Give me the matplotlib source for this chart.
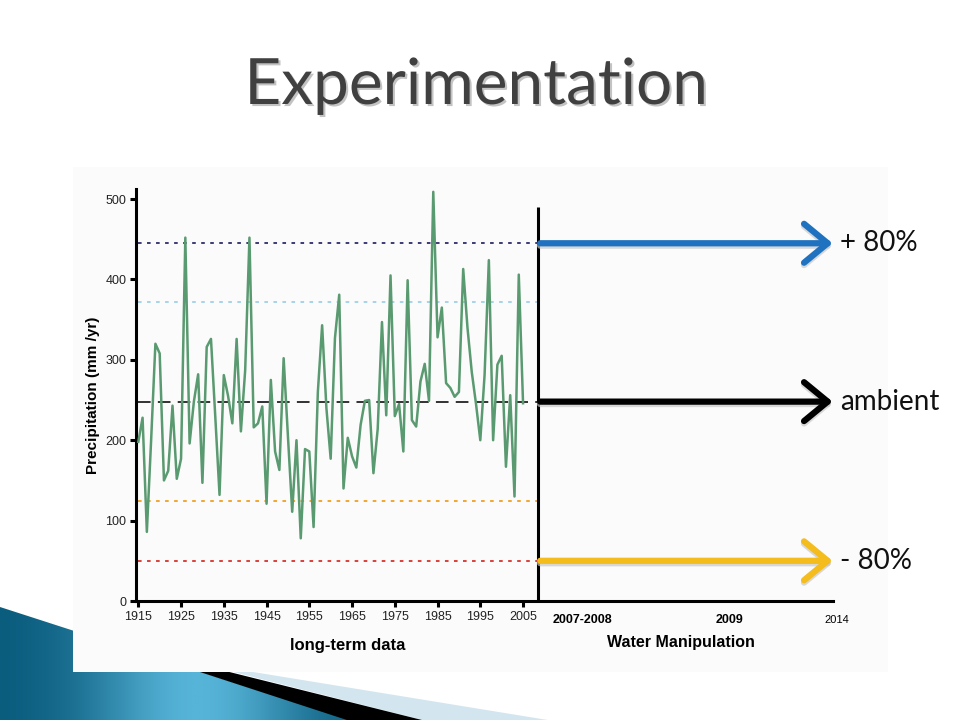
import numpy as np
import matplotlib.pyplot as plt
from matplotlib.patches import Polygon, Rectangle
from matplotlib.colors import LinearSegmentedColormap
from matplotlib.transforms import blended_transform_factory
import matplotlib.patheffects as pe

# annual precipitation (mm / yr)
years = list(range(1915, 2006))
precip = [198, 228, 86, 200, 320, 308, 150, 162, 243, 152,
          177, 452, 196, 248, 282, 147, 316, 326, 230, 132,
          281, 255, 221, 326, 211, 287, 452, 216, 221, 242,
          121, 275, 186, 163, 302, 205, 111, 200, 78, 189,
          186, 92, 260, 343, 240, 177, 327, 381, 140, 203,
          180, 166, 219, 249, 250, 159, 214, 347, 231, 405,
          230, 245, 186, 399, 225, 217, 273, 295, 249, 509,
          328, 365, 271, 265, 254, 260, 413, 340, 285, 245,
          200, 281, 424, 200, 294, 305, 167, 256, 130, 406, 246]

# reference levels (ambient mean and +/- 50 / 80 %)
levels = [445, 372, 248, 124, 50]
level_colors = ['#2b2c6b', '#9fd0e8', '#222222', '#f0a020', '#d9312b']
level_styles = [(0, (2, 3)), (0, (2, 3)), (0, (7, 4)), (0, (2, 3)), (0, (2, 3))]

xticks = list(range(1915, 2006, 10))
yticks = [0, 100, 200, 300, 400, 500]

# treatments shown as arrows: level, colour, label
arrow_levels = [445, 248, 50]
arrow_colors = ['#1f72c0', '#000000', '#f4bc1c']
arrow_labels = ['+ 80%', 'ambient', '- 80%']

manip_labels = ['2007-2008', '2009', '2014']
manip_pos = [2018.9, 2053.4, 2078.4]

W, H = 960, 720
fig = plt.figure(figsize=(9.6, 7.2), dpi=100)
fig.patch.set_facecolor('white')

# background layer in pixel coordinates
bg = fig.add_axes([0, 0, 1, 1], zorder=-1)
bg.set_xlim(0, W)
bg.set_ylim(H, 0)
bg.axis('off')

# slide decoration at bottom left
light = Polygon([(198, 663), (560, 722), (430, 722)], closed=True,
                facecolor='#d3e6ef', edgecolor='none')
bg.add_patch(light)
shadow = Polygon([(105, 641), (430, 722), (353, 722)], closed=True,
                 facecolor='black', edgecolor='none')
bg.add_patch(shadow)
blue = Polygon([(0, 607), (356, 722), (0, 722)], closed=True,
               facecolor='none', edgecolor='none')
bg.add_patch(blue)
grad = np.linspace(0, 1, 256)
grad = np.exp(-((grad - 0.55) / 0.3) ** 2)[None, :]
bcmap = LinearSegmentedColormap.from_list('b', ['#0b5d7e', '#56b4d8'])
im = bg.imshow(grad, cmap=bcmap, extent=(0, 360, 722, 600), aspect='auto')
im.set_clip_path(blue)

# chart image area
bg.add_patch(Rectangle((73, 167), 815, 505, facecolor='#fbfbfb', edgecolor='none'))

# main chart
x0 = 1915 - 2.3 / 4.275
x1 = x0 + 697 / 4.275
ax = fig.add_axes([136 / W, 1 - 601 / H, 697 / W, (601 - 189.4) / H])
ax.patch.set_alpha(0)
ax.set_xlim(x0, x1)
ax.set_ylim(0, 512)

for lv, c, ls in zip(levels, level_colors, level_styles):
    ax.hlines(lv, 1915, 2008.4, colors=c, linestyles=[ls], lw=1.3, zorder=2)

ax.plot(years, precip, color='#5a9a70', lw=1.8, zorder=3)
ax.vlines(2008.45, 0, 490, colors='black', lw=2.2, zorder=4)

for sp in ['top', 'right']:
    ax.spines[sp].set_visible(False)
for sp in ['left', 'bottom']:
    ax.spines[sp].set_linewidth(2.2)

ax.set_xticks(xticks)
ax.set_yticks(yticks)
ax.tick_params(direction='out', length=4, width=2.2, labelsize=9,
               labelcolor='#222222', pad=3)
for lab in ax.get_xticklabels() + ax.get_yticklabels():
    lab.set_family('Liberation Sans')

tr = blended_transform_factory(ax.transData, ax.transAxes)
ax.text(1964, -0.108, 'long-term data', transform=tr, ha='center', va='center',
        fontsize=12, fontweight='bold', family='Liberation Sans')
ax.text(2041.9, -0.102, 'Water Manipulation', transform=tr, ha='center',
        va='center', fontsize=11.5, fontweight='bold', family='Liberation Sans')
for lab, xp in zip(manip_labels, manip_pos):
    is_bold = lab != '2014'
    ax.text(xp, -0.045, lab, transform=tr, ha='center', va='center',
            fontsize=9 if is_bold else 8, fontweight='bold' if is_bold else 'normal',
            family='Liberation Sans', clip_on=False)
ax.text(-0.062, 0.5, 'Precipitation (mm /yr)', transform=ax.transAxes,
        rotation=90, ha='center', va='center', fontsize=11,
        fontweight='bold', family='Liberation Sans')

# treatment arrows
tip = x1 - 0.1
style = '->,head_length=0.85,head_width=0.7'
for lv, c, lab in zip(arrow_levels, arrow_colors, arrow_labels):
    ax.annotate('', xy=(tip, lv - 3), xytext=(2009.0, lv - 3),
                arrowprops=dict(arrowstyle=style, lw=4.5, color='#c8c8c8',
                                mutation_scale=20, shrinkA=0, shrinkB=0,
                                alpha=0.7),
                annotation_clip=False, zorder=5)
    ax.annotate('', xy=(tip, lv), xytext=(2009.0, lv),
                arrowprops=dict(arrowstyle=style, lw=4.5, color=c,
                                mutation_scale=20, shrinkA=0, shrinkB=0),
                annotation_clip=False, zorder=6)
    ax.text(x1 + 1.6, lv, lab, ha='left', va='center', fontsize=20,
            family='Lato', color='#111111', clip_on=False)

fig.text(476 / W, 1 - 86 / H, 'Experimentation', ha='center', va='center',
         fontsize=46, color='#404040', family='Lato',
         path_effects=[pe.withSimplePatchShadow(offset=(1.5, -1.5), alpha=0.25)])

fig.savefig('out.png', dpi=100)
